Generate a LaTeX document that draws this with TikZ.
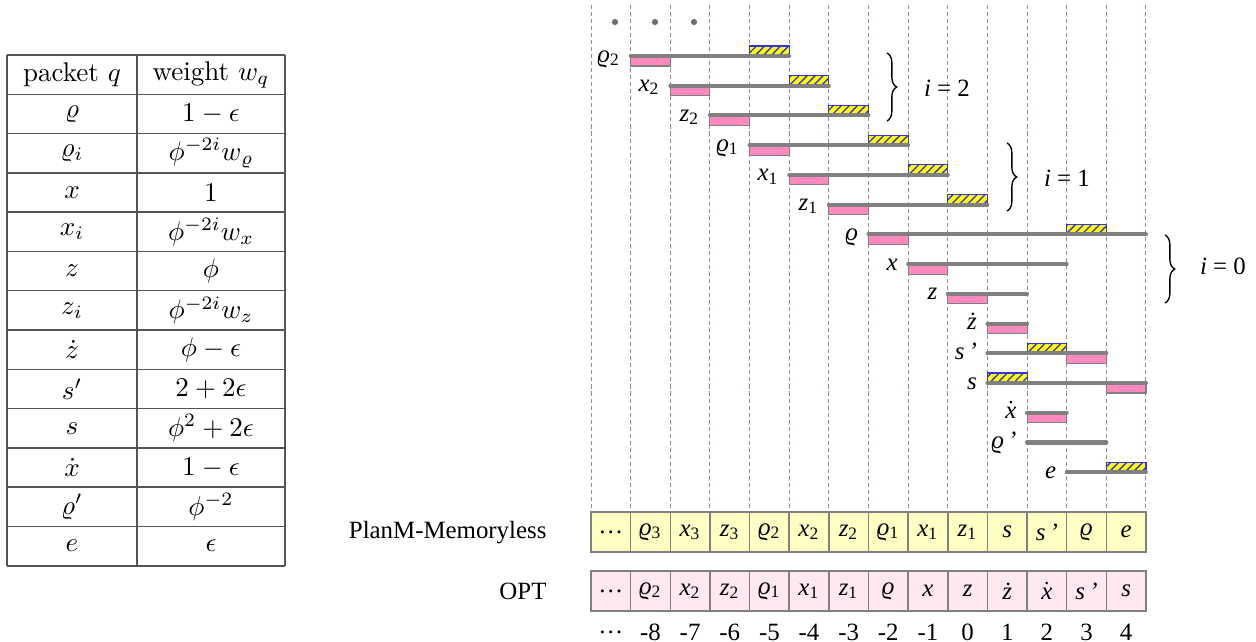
\documentclass[tikz,border=0pt]{standalone}
\usepackage{fontspec}
\newfontfamily\tms{Liberation Serif}[ItalicFont={Liberation Serif Italic}]
\usetikzlibrary{patterns.meta,decorations.pathreplacing}
\definecolor{barg}{RGB}{128,128,128}
\definecolor{pinkb}{RGB}{255,136,190}
\definecolor{yel}{RGB}{255,255,0}
\definecolor{hatch}{RGB}{50,50,230}
\definecolor{gridc}{RGB}{140,140,170}
\definecolor{planbg}{RGB}{255,255,196}
\definecolor{optbg}{RGB}{255,232,240}
\definecolor{boxline}{RGB}{128,128,128}
\definecolor{tabline}{RGB}{85,85,85}
\definecolor{dotc}{RGB}{110,110,110}
\newcommand{\tl}[1]{{\tms\fontsize{9.2}{11}\selectfont\itshape #1}}
\newcommand{\tu}[1]{{\tms\fontsize{9.2}{11}\selectfont #1}}
\newcommand{\sbs}[1]{\textsubscript{\upshape #1}}
\newcommand{\dtt}[1]{$\dot{\mbox{#1}}$}
\newcommand{\vr}{ϱ}
\tikzset{
  gridl/.style={gridc, dash pattern=on 1.5pt off 1.1pt, line width=0.35pt},
  pbar/.style={barg, line width=1.5pt, line cap=round},
  pinkbox/.style={fill=pinkb, draw=boxline, line width=0.4pt},
  yelbox/.style={fill=yel, draw=hatch, line width=0.4pt,
    postaction={pattern={Lines[angle=45,distance=2.1pt,line width=0.5pt]}, pattern color=hatch}},
  plancell/.style={fill=planbg, draw=boxline, line width=0.55pt},
  optcell/.style={fill=optbg, draw=boxline, line width=0.55pt},
  tabl/.style={tabline, line width=0.55pt},
  brc/.style={decorate, decoration={brace, amplitude=3.6pt}, line width=0.5pt},
  rowlab/.style={anchor=base east, inner sep=0pt},
}
\begin{document}
\begin{tikzpicture}[x=0.37pt, y=-0.37pt]
\useasboundingbox (0,0) rectangle (1256,642);

% ---------- table ----------
\foreach \i in {0,...,13} {
  \draw[tabl] (7,{55+39.29*\i}) -- (285,{55+39.29*\i});
}
\foreach \xx in {7,137,285} {
  \draw[tabl] (\xx,55) -- (\xx,565.8);
}
\foreach \i/\a/\b in {
  0/{packet $q$}/{weight $w_q$},
  1/{$\varrho$}/{$1-\epsilon$},
  2/{$\varrho_i$}/{$\phi^{-2i}w_\varrho$},
  3/{$x$}/{$1$},
  4/{$x_i$}/{$\phi^{-2i}w_x$},
  5/{$z$}/{$\phi$},
  6/{$z_i$}/{$\phi^{-2i}w_z$},
  7/{$\dot z$}/{$\phi-\epsilon$},
  8/{$s'$}/{$2+2\epsilon$},
  9/{$s$}/{$\phi^2+2\epsilon$},
  10/{$\dot x$}/{$1-\epsilon$},
  11/{$\varrho'$}/{$\phi^{-2}$},
  12/{$e$}/{$\epsilon$}} {
  \node (tq\i) at (72,{55+39.29*(\i+0.5)}) {\a};
  \node (tw\i) at (211,{55+39.29*(\i+0.5)}) {\b};
}

% ---------- grid ----------
\foreach \k in {0,...,14} {
  \draw[gridl] ({591+39.64*\k},5) -- ({591+39.64*\k},512);
}
\foreach \xx [count=\j] in {615,655,694} {
  \fill[dotc] (\xx,22) circle[radius=1.15pt];
}

% ---------- bars ----------
\foreach \n/\r/\a/\b/\p/\q/\t in {
  rhoB/0/1/5/1/4/{\vr\sbs{2}},
  xB/1/2/6/2/5/{x\sbs{2}},
  zB/2/3/7/3/6/{z\sbs{2}},
  rhoA/3/4/8/4/7/{\vr\sbs{1}},
  xA/4/5/9/5/8/{x\sbs{1}},
  zA/5/6/10/6/9/{z\sbs{1}},
  rho/6/7/14/7/12/{\vr},
  x/7/8/12/8/-1/{x},
  z/8/9/11/9/-1/{z},
  zd/9/10/11/10/-1/{ż},
  sp/10/10/13/12/11/{s\,’},
  s/11/10/14/13/10/{s},
  xd/12/11/12/11/-1/{\dtt{x}},
  rhop/13/11/13/-1/-1/{\vr\,’},
  e/14/12/14/-1/13/{e}} {
  \pgfmathsetmacro\yy{56+29.73*\r}
  \pgfmathsetmacro\xa{591+39.64*\a}
  \pgfmathsetmacro\xb{591+39.64*\b}
  \ifnum\p>-1
    \pgfmathsetmacro\xp{591+39.64*\p}
    \draw[pinkbox] (\xp,\yy) rectangle ({\xp+39.64},{\yy+10});
  \fi
  \ifnum\q>-1
    \pgfmathsetmacro\xq{591+39.64*\q}
    \draw[yelbox] (\xq,{\yy-10}) rectangle ({\xq+39.64},\yy);
  \fi
  \coordinate (\n-s) at (\xa,\yy);
  \coordinate (\n-e) at (\xb,\yy);
  \draw[pbar] (\n-s) -- (\n-e);
  \node[rowlab] (\n-l) at ({\xa-10},{\yy+6}) {\tl{\t}};
}

% ---------- braces ----------
\coordinate (b2t) at (887,53); \coordinate (b2b) at (887,121);
\coordinate (b1t) at (1007,143); \coordinate (b1b) at (1007,211);
\coordinate (b0t) at (1165,235); \coordinate (b0b) at (1165,303);
\draw[brc] (b2t) -- (b2b);
\draw[brc] (b1t) -- (b1b);
\draw[brc] (b0t) -- (b0b);
\node (i2) at (947,88) {\tu{\textit{i} = 2}};
\node (i1) at (1067,178) {\tu{\textit{i} = 1}};
\node (i0) at (1223,266) {\tu{\textit{i} = 0}};

% ---------- bottom rows ----------
\node[anchor=east, inner sep=0pt] (planlab) at (547,533) {\tu{PlanM-Memoryless}};
\node[anchor=east, inner sep=0pt] (optlab) at (547,591) {\tu{OPT}};
\foreach \t [count=\c from 0] in {
  {\upshape …},{\vr\sbs{3}},{x\sbs{3}},{z\sbs{3}},{\vr\sbs{2}},{x\sbs{2}},{z\sbs{2}},
  {\vr\sbs{1}},{x\sbs{1}},{z\sbs{1}},{s},{s\,’},{\vr},{e}} {
  \draw[plancell] ({591+39.64*\c},512) rectangle ({591+39.64*(\c+1)},552);
  \node (pl\c) at ({591+39.64*(\c+0.5)},532) {\tl{\t}};
}
\foreach \t [count=\c from 0] in {
  {\upshape …},{\vr\sbs{2}},{x\sbs{2}},{z\sbs{2}},{\vr\sbs{1}},{x\sbs{1}},{z\sbs{1}},
  {\vr},{x},{z},{ż},{\dtt{x}},{s\,’},{s}} {
  \draw[optcell] ({591+39.64*\c},571) rectangle ({591+39.64*(\c+1)},611);
  \node (op\c) at ({591+39.64*(\c+0.5)},591) {\tl{\t}};
}
\foreach \t [count=\c from 0] in {…,-8,-7,-6,-5,-4,-3,-2,-1,0,1,2,3,4} {
  \node (nm\c) at ({591+39.64*(\c+0.5)},632) {\tu{\t}};
}
\end{tikzpicture}
\end{document}
